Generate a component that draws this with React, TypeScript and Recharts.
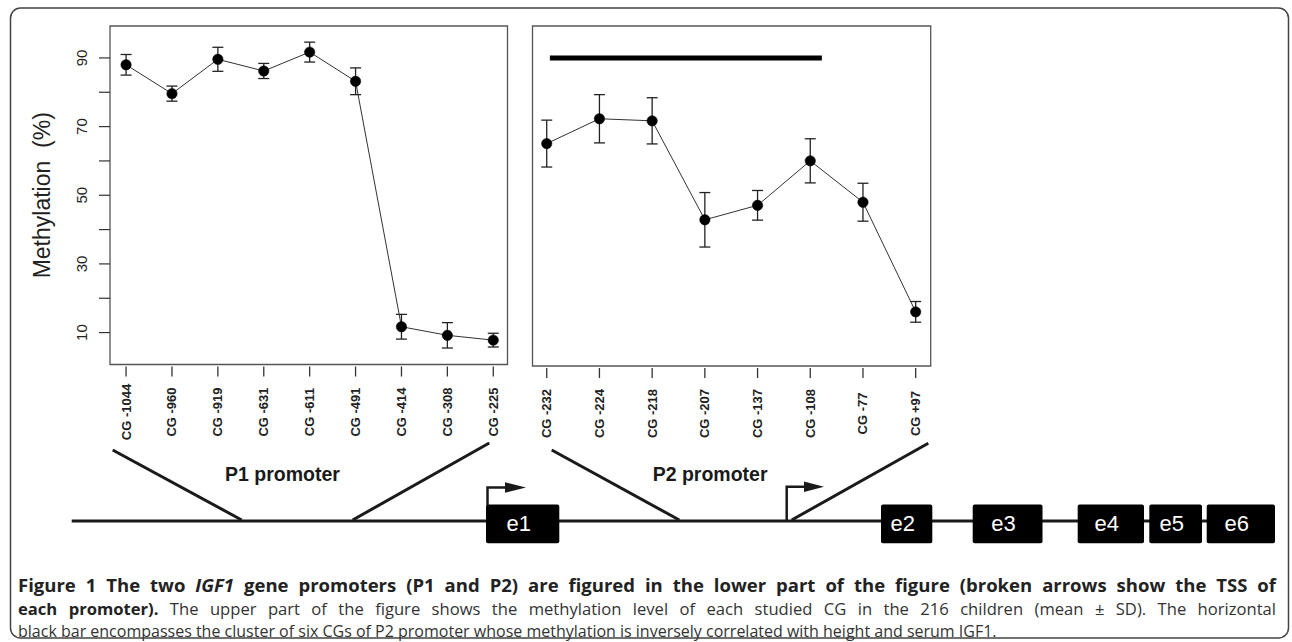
import React from 'react';
import { LineChart, Line, XAxis, YAxis, ErrorBar, ReferenceArea, ReferenceLine } from 'recharts';

// ---- data ----
const p1Labels = ['CG -1044', 'CG -960', 'CG -919', 'CG -631', 'CG -611', 'CG -491', 'CG -414', 'CG -308', 'CG -225'];
const p1Mean = [88.0, 79.6, 89.6, 86.2, 91.7, 83.2, 11.7, 9.2, 7.8];
const p1Sd = [3.0, 2.2, 3.5, 2.2, 2.9, 3.9, 3.6, 3.7, 2.0];

const p2Labels = ['CG -232', 'CG -224', 'CG -218', 'CG -207', 'CG -137', 'CG -108', 'CG -77', 'CG +97'];
const p2Mean = [65.2, 72.4, 71.8, 43.1, 47.3, 60.2, 48.2, 16.4];
const p2Sd = [6.8, 7.0, 6.7, 7.9, 4.3, 6.4, 5.5, 3.0];

const yTicks = [10, 20, 30, 40, 50, 60, 70, 80, 90];
const yLabelled = [10, 30, 50, 70, 90];
const yDomain: [number, number] = [0.7, 99.3];

// cluster bar over the six P2 CGs (x in CG index units, y in %)
const clusterBar = { from: 1.06, to: 6.22, level: 90 };

const exonNames = ['e1', 'e2', 'e3', 'e4', 'e5', 'e6'];

const p1Data = p1Mean.map((m, i) => ({ idx: i + 1, mean: m, sd: p1Sd[i] }));
const p2Data = p2Mean.map((m, i) => ({ idx: i + 1, mean: m, sd: p2Sd[i] }));

// ---- layout (schematic, not data) ----
const exonBoxes = [
  [486, 559.3],
  [881, 932.3],
  [972.7, 1042.5],
  [1077.7, 1144],
  [1149.3, 1202],
  [1206.7, 1275],
];

const INK = '#1a1a1a';

const makeXTick = (labels: string[]) => (props: any) => {
  const { x, y, payload } = props;
  const i = Math.round(payload.value) - 1;
  const cy = y + 47.5;
  return (
    <g>
      <line x1={x} y1={y + 2} x2={x} y2={y + 12} stroke="#333" strokeWidth={1.3} />
      <text
        x={x}
        y={cy}
        transform={`rotate(-90, ${x}, ${cy})`}
        textAnchor="middle"
        dominantBaseline="central"
        fontFamily="'Liberation Sans', Arial, sans-serif"
        fontWeight="bold"
        fontSize={13}
        fill="#222"
      >
        {labels[i]}
      </text>
    </g>
  );
};

const YTick = (props: any) => {
  const { x, y, payload } = props;
  if (!yLabelled.includes(payload.value)) return <g />;
  const cx = x - 17.3;
  return (
    <text
      x={cx}
      y={y}
      transform={`rotate(-90, ${cx}, ${y})`}
      textAnchor="middle"
      dominantBaseline="central"
      fontFamily="'Liberation Sans', Arial, sans-serif"
      fontSize={15}
      fill="#222"
    >
      {payload.value}
    </text>
  );
};

const YLabel = (props: any) => {
  const vb = props.viewBox || {};
  const cx = 42;
  const cy = (vb.y ?? 26) + (vb.height ?? 338) / 2;
  return (
    <text
      x={cx}
      y={cy}
      transform={`rotate(-90, ${cx}, ${cy})`}
      textAnchor="middle"
      dominantBaseline="central"
      fontFamily="'Liberation Sans', Arial, sans-serif"
      fontSize={23}
      fill="#222"
      style={{ whiteSpace: 'pre' }}
    >
      {'Methylation  (%)'}
    </text>
  );
};

const dotStyle = { r: 5.2, fill: '#000', stroke: '#000', strokeWidth: 0.5 };

const P1Chart = () => (
  <LineChart width={520} height={445} data={p1Data} margin={{ top: 26, right: 12.5, left: 70, bottom: 0 }}>
    <XAxis
      dataKey="idx"
      type="number"
      domain={[0.65, 9.31]}
      ticks={p1Labels.map((_, i) => i + 1)}
      interval={0}
      height={80.5}
      axisLine={false}
      tickLine={false}
      tickSize={0}
      tickMargin={0}
      tick={makeXTick(p1Labels)}
    />
    <YAxis
      type="number"
      domain={yDomain}
      ticks={yTicks}
      interval={0}
      width={40}
      axisLine={false}
      tickLine={{ stroke: '#333', strokeWidth: 1.2 }}
      tickSize={11}
      tickMargin={0}
      tick={<YTick />}
      label={<YLabel />}
    />
    <ReferenceArea x1={0.65} x2={9.31} y1={yDomain[0]} y2={yDomain[1]} fill="none" fillOpacity={0} stroke="#555" strokeWidth={1.3} ifOverflow="visible" />
    <Line dataKey="mean" stroke="#333" strokeWidth={1} dot={dotStyle} isAnimationActive={false}>
      <ErrorBar dataKey="sd" width={5.5} stroke="#222" strokeWidth={1.3} direction="y" />
    </Line>
  </LineChart>
);

const P2Chart = () => (
  <LineChart width={465} height={446} data={p2Data} margin={{ top: 26, right: 14.3, left: 52.5, bottom: 0 }}>
    <XAxis
      dataKey="idx"
      type="number"
      domain={[0.73, 8.285]}
      ticks={p2Labels.map((_, i) => i + 1)}
      interval={0}
      height={80}
      axisLine={false}
      tickLine={false}
      tickSize={0}
      tickMargin={0}
      tick={makeXTick(p2Labels)}
    />
    <YAxis type="number" domain={yDomain} hide />
    <ReferenceArea x1={0.73} x2={8.285} y1={yDomain[0]} y2={yDomain[1]} fill="none" fillOpacity={0} stroke="#555" strokeWidth={1.3} ifOverflow="visible" />
    <ReferenceLine
      segment={[
        { x: clusterBar.from, y: clusterBar.level },
        { x: clusterBar.to, y: clusterBar.level },
      ]}
      stroke="#000"
      strokeWidth={5}
      ifOverflow="visible"
    />
    <Line dataKey="mean" stroke="#333" strokeWidth={1} dot={dotStyle} isAnimationActive={false}>
      <ErrorBar dataKey="sd" width={5.5} stroke="#222" strokeWidth={1.3} direction="y" />
    </Line>
  </LineChart>
);

const GeneDiagram = () => (
  <svg width={1292} height={642} style={{ position: 'absolute', left: 0, top: 0 }}>
    <rect x={10.5} y={8} width={1278} height={630} rx={10} ry={10} fill="none" stroke="#444" strokeWidth={1.5} />
    {/* gene axis */}
    <line x1={71.7} y1={521} x2={1207} y2={521} stroke={INK} strokeWidth={3} />
    {/* P1 promoter zoom lines */}
    <line x1={112.7} y1={450} x2={241.7} y2={520} stroke={INK} strokeWidth={3} />
    <line x1={352.7} y1={520} x2={489.3} y2={443} stroke={INK} strokeWidth={3} />
    {/* P2 promoter zoom lines */}
    <line x1={551.7} y1={450} x2={679.3} y2={520} stroke={INK} strokeWidth={3} />
    <line x1={791.7} y1={520} x2={928.3} y2={443.3} stroke={INK} strokeWidth={3} />
    {/* TSS arrows */}
    <path d="M487.5,505 V487.5 H507" fill="none" stroke={INK} strokeWidth={2.5} />
    <polygon points="505,482.3 526,487.5 505,492.7" fill={INK} />
    <path d="M786.7,520 V486.7 H806" fill="none" stroke={INK} strokeWidth={2.5} />
    <polygon points="804,481.5 824,486.7 804,491.9" fill={INK} />
    {/* exons */}
    {exonBoxes.map(([a, b], i) => (
      <g key={i}>
        <rect x={a} y={504.5} width={b - a} height={38.8} rx={2} fill="#000" />
        <text
          x={(a + b) / 2 - 4}
          y={531}
          textAnchor="middle"
          fontFamily="'Liberation Sans', Arial, sans-serif"
          fontSize={22}
          fill="#fff"
        >
          {exonNames[i]}
        </text>
      </g>
    ))}
    <text x={225} y={481} fontFamily="'Liberation Sans', Arial, sans-serif" fontWeight="bold" fontSize={19.5} fill={INK}>
      P1 promoter
    </text>
    <text x={652.7} y={481} fontFamily="'Liberation Sans', Arial, sans-serif" fontWeight="bold" fontSize={19.5} fill={INK}>
      P2 promoter
    </text>
  </svg>
);

const capBase: React.CSSProperties = {
  position: 'absolute',
  left: 18,
  width: 1258,
  fontFamily: "'Open Sans', sans-serif",
  color: '#333',
  lineHeight: '22px',
  whiteSpace: 'nowrap',
};

const Caption = () => (
  <>
    <div style={{ ...capBase, top: 574, fontSize: 18.5, fontWeight: 700, color: '#222', textAlign: 'justify', textAlignLast: 'justify' }}>
      Figure 1 The two <i>IGF1</i> gene promoters (P1 and P2) are figured in the lower part of the figure (broken arrows show the TSS of
    </div>
    <div style={{ ...capBase, top: 598, fontSize: 16.6, textAlign: 'justify', textAlignLast: 'justify' }}>
      <b style={{ color: '#222', fontSize: 16.6 }}>each promoter).</b> The upper part of the figure shows the methylation level of each studied CG in the 216 children (mean ± SD). The horizontal
    </div>
    <div style={{ ...capBase, top: 620, fontSize: 16 }}>
      black bar encompasses the cluster of six CGs of P2 promoter whose methylation is inversely correlated with height and serum IGF1.
    </div>
  </>
);

export default function App() {
  return (
    <div style={{ position: 'absolute', left: 0, top: 0, width: 1292, height: 642, background: '#fff', overflow: 'hidden' }}>
      <GeneDiagram />
      <div style={{ position: 'absolute', left: 0, top: 0 }}>
        <P1Chart />
      </div>
      <div style={{ position: 'absolute', left: 480, top: 0 }}>
        <P2Chart />
      </div>
      <Caption />
    </div>
  );
}
